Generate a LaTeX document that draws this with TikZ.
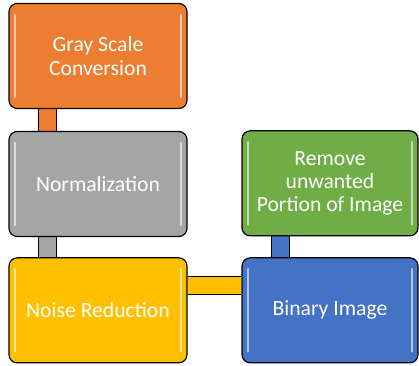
\documentclass[tikz,border=0pt]{standalone}
\usepackage{fontspec}
\setmainfont{Carlito}
\usetikzlibrary{positioning,backgrounds}
\definecolor{stepOrange}{HTML}{ED7D31}
\definecolor{stepGray}{HTML}{A5A5A5}
\definecolor{stepYellow}{HTML}{FFC000}
\definecolor{stepGreen}{HTML}{70AD47}
\definecolor{stepBlue}{HTML}{4472C4}
\tikzset{
  stage/.style={draw=black,line width=1pt,rounded corners=7pt,rectangle,
    minimum width=5.34cm,minimum height=3.15cm,align=center,text=white,
    font=\fontsize{18.5}{20.5}\selectfont},
  link/.style={draw=black,line width=0.8pt,double=#1,double distance=0.5cm},
  shine/.style={line width=1.6pt,line cap=round,white,opacity=0.6}
}

\begin{document}
\begin{tikzpicture}
  \useasboundingbox (0,0) rectangle (12.57,10.95);

  \node[stage,fill=stepOrange] (gray) at (2.94,9.27) {Gray Scale\\Conversion};
  \node[stage,fill=stepGray] (norm) at (2.94,5.43) {Normalization};
  \node[stage,fill=stepYellow] (noise) at (2.94,1.64) {Noise Reduction};
  \node[stage,fill=stepBlue,minimum width=5.28cm] (binary) at (9.9,1.64) {Binary Image};
  \node[stage,fill=stepGreen,minimum width=5.28cm,font=\fontsize{18.5}{19.5}\selectfont]
    (remove) at (9.9,5.45) {Remove\\unwanted\\Portion of Image};

  % glossy strips
  \foreach \n in {gray,norm,noise,binary,remove}{
    \draw[shine] ([xshift=0.2cm,yshift=-0.35cm]\n.north west) -- ([xshift=0.2cm,yshift=0.35cm]\n.south west);
    \draw[shine] ([xshift=-0.2cm,yshift=-0.35cm]\n.north east) -- ([xshift=-0.2cm,yshift=0.35cm]\n.south east);
  }

  \begin{scope}[on background layer]
    \draw[link=stepOrange] (gray.south -| 1.425,0) -- (norm.north -| 1.425,0);
    \draw[link=stepGray] (norm.south -| 1.425,0) -- (noise.north -| 1.425,0);
    \draw[link=stepYellow] (noise.east |- 0,2.385) -- (binary.west |- 0,2.385);
    \draw[link=stepBlue] (remove.south -| 8.415,0) -- (binary.north -| 8.415,0);
  \end{scope}
\end{tikzpicture}
\end{document}
